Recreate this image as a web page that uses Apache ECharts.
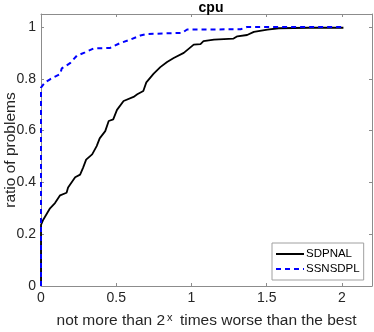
<!DOCTYPE html>
<html><head><meta charset="utf-8">
<script src="https://cdn.jsdelivr.net/npm/echarts@6/dist/echarts.min.js"></script>
<style>html,body{margin:0;padding:0;background:#fff}#c{width:374px;height:332px}</style>
</head><body><div id="c"></div>
<script>
const title = 'cpu';
const seriesNames = ['SDPNAL', 'SSNSDPL'];
const sdpnalX = [0,0,0.015,0.06,0.093,0.127,0.17,0.18,0.227,0.26,0.28,0.3,0.34,0.37,0.39,0.427,0.45,0.48,0.505,0.549,0.615,0.64,0.68,0.70,0.749,0.793,0.838,0.882,0.949,1.015,1.06,1.08,1.15,1.28,1.305,1.37,1.415,1.505,1.58,1.78,2.01];
const sdpnalY = [0,0.236,0.256,0.30,0.32,0.35,0.36,0.38,0.42,0.43,0.457,0.488,0.508,0.54,0.57,0.598,0.637,0.643,0.68,0.714,0.73,0.74,0.753,0.786,0.82,0.845,0.865,0.88,0.9,0.932,0.934,0.945,0.951,0.955,0.964,0.969,0.981,0.99,0.995,0.997,0.997];
const ssnX = [0,0,0.027,0.06,0.082,0.127,0.138,0.193,0.238,0.293,0.349,0.46,0.527,0.593,0.66,0.704,0.938,0.971,1.327,1.37,2.01];
const ssnY = [0,0.766,0.786,0.798,0.805,0.818,0.84,0.86,0.889,0.902,0.917,0.919,0.938,0.951,0.967,0.973,0.977,0.99,0.991,1.0,1.0];
const xTicks = [0,0.5,1,1.5,2];
const yTicks = [0,0.2,0.4,0.6,0.8,1];

const font = 'Liberation Sans, Arial, Helvetica, sans-serif';
const axisCol = '#8c8c8c';
const txtCol = '#262626';
const pair = (xs, ys) => xs.map((x, i) => [x, ys[i]]);
const chart = echarts.init(document.getElementById('c'), null, {renderer: 'canvas'});
const fmtX = v => xTicks.some(t => Math.abs(t - v) < 1e-9) ? String(v) : '';
const fmtY = v => yTicks.some(t => Math.abs(t - v) < 1e-9) ? String(+v.toFixed(1)) : '';
chart.setOption({
  animation: false,
  backgroundColor: '#fff',
  title: {text: title, left: 206, textAlign: 'center', top: -4,
    textStyle: {fontFamily: font, fontSize: 14, fontWeight: 'bold', color: '#000'}},
  grid: {left: 41, right: 2, top: 14, bottom: 46, containLabel: false, outerBoundsMode: 'none'},
  legend: {
    orient: 'vertical', left: 272, top: 243, itemWidth: 28, itemHeight: 10, itemGap: 3,
    padding: [5, 4, 5, 3], borderColor: '#a0a0a0', borderWidth: 1, backgroundColor: '#fff',
    itemStyle: {color: 'rgba(0,0,0,0)', borderWidth: 0, opacity: 0},
    textStyle: {fontFamily: font, fontSize: 11.5, color: '#000', padding: [0, 0, 0, -3]},
    data: seriesNames
  },
  xAxis: [{
    type: 'value', min: 0, max: 2.2, interval: 0.5,
    name: 'not more than 2{s|x} times worse than the best', nameLocation: 'middle', nameGap: 26,
    nameMoveOverlap: false,
    nameTextStyle: {fontFamily: font, fontSize: 15.5, color: txtCol,
      rich: {s: {fontFamily: font, fontSize: 11, color: txtCol, verticalAlign: 'top', padding: [0, 3, 6, 2]}}},
    axisLine: {show: true, onZero: false, lineStyle: {color: axisCol, width: 1}},
    axisTick: {show: true, inside: true, length: 3, lineStyle: {color: axisCol}},
    axisLabel: {formatter: fmtX, fontFamily: font, fontSize: 14, color: txtCol, margin: 5, showMaxLabel: false},
    splitLine: {show: false}
  }, {
    type: 'value', min: 0, max: 2.2, interval: 0.5, position: 'top',
    axisLine: {show: true, onZero: false, lineStyle: {color: axisCol, width: 1}},
    axisTick: {show: true, inside: true, length: 3, lineStyle: {color: axisCol}},
    axisLabel: {show: false}, splitLine: {show: false}
  }],
  yAxis: [{
    type: 'value', min: 0, max: 1.05, interval: 0.2,
    name: 'ratio of problems', nameLocation: 'middle', nameGap: 22, nameMoveOverlap: false,
    nameTextStyle: {fontFamily: font, fontSize: 15.5, color: txtCol},
    axisLine: {show: true, onZero: false, lineStyle: {color: axisCol, width: 1}},
    axisTick: {show: true, inside: true, length: 3, lineStyle: {color: axisCol}},
    axisLabel: {formatter: fmtY, fontFamily: font, fontSize: 14, color: txtCol, margin: 5, showMaxLabel: false},
    splitLine: {show: false}
  }, {
    type: 'value', min: 0, max: 1.05, interval: 0.2, position: 'right',
    axisLine: {show: true, onZero: false, lineStyle: {color: axisCol, width: 1}},
    axisTick: {show: true, inside: true, length: 3, lineStyle: {color: axisCol}},
    axisLabel: {show: false}, splitLine: {show: false}
  }],
  series: [{
    name: seriesNames[0], type: 'line', data: pair(sdpnalX, sdpnalY), showSymbol: false, symbol: 'none',
    lineStyle: {color: '#000', width: 1.8}, itemStyle: {color: '#000'}, z: 3
  }, {
    name: seriesNames[1], type: 'line', data: pair(ssnX, ssnY), showSymbol: false, symbol: 'none',
    lineStyle: {color: '#0000ff', width: 2, type: [5, 4]}, itemStyle: {color: '#0000ff'}, z: 4
  }]
});
</script></body></html>
